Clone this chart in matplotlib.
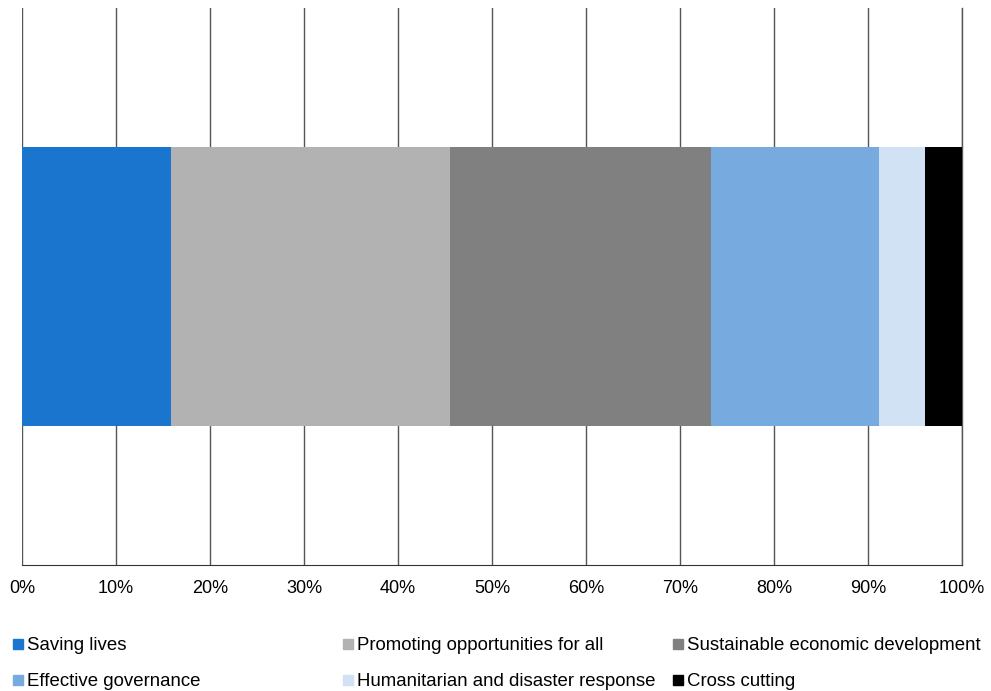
import matplotlib.pyplot as plt
from matplotlib.patches import Rectangle

plt.rcParams['font.family'] = ['Liberation Sans', 'DejaVu Sans']

categories = ["Saving lives", "Promoting opportunities for all", "Sustainable economic development",
              "Effective governance", "Humanitarian and disaster response", "Cross cutting"]
shares = [15.85, 29.7, 27.8, 17.85, 4.9, 3.9]
colors = ["#1a75cf", "#b2b2b2", "#808080", "#77aadf", "#d0e2f4", "#000000"]
tick_labels = ["0%", "10%", "20%", "30%", "40%", "50%", "60%", "70%", "80%", "90%", "100%"]

fig = plt.figure(figsize=(9.91, 6.91), dpi=100)
ax = fig.add_axes([22 / 991, 126 / 691, 940 / 991, 557 / 691])

left = 0
for cat, val, col in zip(categories, shares, colors):
    ax.barh(0, val, left=left, height=1.0, color=col, zorder=3)
    left += val

ax.set_xlim(0, 100)
ax.set_ylim(-1, 1)
ax.set_xticks(range(0, 101, 10))
ax.set_xticklabels(tick_labels, fontsize=13)
ax.set_yticks([])
ax.grid(axis='x', color='#555555', linewidth=1.0, zorder=1)
ax.axvline(100, color='#555555', linewidth=1.0, zorder=1, clip_on=False)
for s in ['top', 'right', 'left']:
    ax.spines[s].set_visible(False)
ax.spines['bottom'].set_color('#333333')
ax.tick_params(axis='x', length=0, pad=11)

# legend laid out in a fixed 3-column grid
col_x = [18, 348, 678]
row_y = [644, 680]
for i, (cat, col) in enumerate(zip(categories, colors)):
    x = col_x[i % 3] / 991
    y = 1 - row_y[i // 3] / 691
    fig.add_artist(Rectangle((x - 5 / 991, y - 5 / 691), 10 / 991, 10 / 691,
                             transform=fig.transFigure, color=col))
    fig.text(x + 9 / 991, y - 1.5 / 691, cat, fontsize=13.4, va='center', ha='left')

fig.savefig("out.png", dpi=100)
